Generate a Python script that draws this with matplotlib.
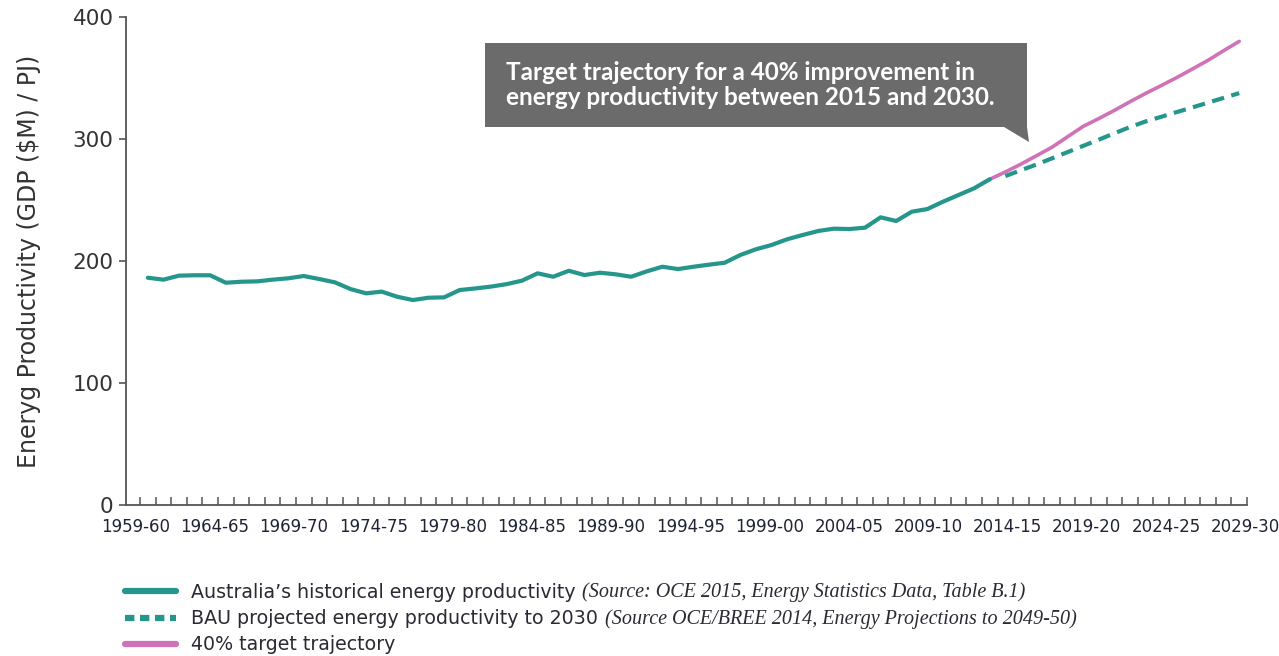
import numpy as np
import matplotlib
matplotlib.use("Agg")
import matplotlib.pyplot as plt
from matplotlib.patches import Polygon
from matplotlib.lines import Line2D

# ---------------- data ----------------
tick_labels = ["1959-60", "1964-65", "1969-70", "1974-75", "1979-80", "1984-85",
               "1989-90", "1994-95", "1999-00", "2004-05", "2009-10", "2014-15",
               "2019-20", "2024-25", "2029-30"]
n_years = 71  # 1959-60 .. 2029-30

# Australia's historical energy productivity, 1959-60 .. 2013-14
historical = [186.3, 184.7, 188.0, 188.3, 188.3, 182.2, 183.0, 183.3, 184.7, 185.8,
              187.7, 185.2, 182.5, 177.0, 173.5, 174.9, 170.7, 168.0, 169.9, 170.2,
              176.2, 177.5, 179.0, 181.0, 183.9, 189.9, 187.1, 192.0, 188.5, 190.4,
              189.1, 187.1, 191.5, 195.3, 193.4, 195.3, 197.0, 198.6, 204.9, 209.6,
              213.1, 217.8, 221.3, 224.6, 226.5, 226.2, 227.3, 235.8, 232.8, 240.4,
              242.6, 248.6, 254.1, 259.6, 267.0]
# BAU projection, 2014-15 .. 2029-30
bau = [269.6, 274.4, 279.1, 284.2, 289.3, 294.4, 299.5, 304.7, 309.8, 314.4,
       318.2, 322.1, 325.9, 329.8, 333.7, 337.6]
# 40% target trajectory, 2013-14 .. 2029-30
target = [267.0, 273.0, 279.4, 286.3, 293.3, 301.9, 310.4, 316.8, 323.5, 330.6,
          337.4, 343.8, 350.4, 357.4, 364.5, 372.4, 380.0]

ytick_vals = [0, 100, 200, 300, 400]

x_hist = np.arange(len(historical))
x_target = np.arange(len(historical) - 1, len(historical) - 1 + len(target))
x_bau = np.arange(len(historical), len(historical) + len(bau))

TEAL = "#25968b"
PINK = "#cf72b8"
TXT = "#2a2a35"

# ---------------- figure ----------------
W, H = 1279, 656
fig = plt.figure(figsize=(W / 100, H / 100), dpi=100)
ax = fig.add_axes([126 / W, 1 - 505 / H, (1247 - 126) / W, (505 - 17) / H])

ax.plot(x_target, target, color=PINK, lw=2.6, solid_capstyle="round", zorder=3)
ax.plot(x_bau, bau, color=TEAL, lw=3.0, dashes=(3.0, 1.8), zorder=3)
ax.plot(x_hist, historical, color=TEAL, lw=3.0, solid_joinstyle="round",
        solid_capstyle="round", zorder=4)

ax.set_xlim(-1.4, 70.5)
ax.set_ylim(0, 400)

for s in ["top", "right"]:
    ax.spines[s].set_visible(False)
for s in ["left", "bottom"]:
    ax.spines[s].set_color("#555555")
    ax.spines[s].set_linewidth(1.3)

ax.set_yticks(ytick_vals)
ax.set_yticklabels([str(v) for v in ytick_vals], fontsize=15.5, color="#333333")
ax.tick_params(axis="y", direction="out", length=5, width=1.2, color="#555555", pad=4)

ax.set_xticks(np.arange(-0.5, n_years, 1.0))
ax.set_xticklabels([])
ax.tick_params(axis="x", which="major", direction="in", length=6, width=1.1,
               color="#555555")
ax.set_xticks(np.linspace(-0.8, 70.4, len(tick_labels)), minor=True)
ax.set_xticklabels(tick_labels, minor=True, fontsize=12, color="#1f2335")
ax.tick_params(axis="x", which="minor", length=0, pad=9)

ax.set_ylabel("Eneryg Productivity (GDP ($M) / PJ)", fontsize=17, color="#333333")
ax.yaxis.set_label_coords(-0.076, 0.5)

# ---------------- callout box ----------------
def fxy(px, py):
    return (px / W, 1 - py / H)

box_pts = [fxy(485, 43), fxy(1027, 43), fxy(1027, 127), fxy(1029, 142),
           fxy(1004, 127), fxy(485, 127)]
fig.patches.append(Polygon(box_pts, closed=True, transform=fig.transFigure,
                           facecolor="#6b6b6b", edgecolor="none", zorder=5))
fig.text(506 / W, 1 - 85 / H,
         "Target trajectory for a 40% improvement in\nenergy productivity between 2015 and 2030.",
         family="Lato", fontweight="bold", fontsize=17.5, color="white",
         ha="left", va="center", linespacing=1.15, zorder=6)

# ---------------- legend ----------------
handles = [Line2D([], [], color=TEAL, lw=4.5, solid_capstyle="round"),
           Line2D([], [], color=TEAL, lw=4.5, dashes=(1.5, 0.9)),
           Line2D([], [], color=PINK, lw=4.5, solid_capstyle="round")]
labels = ["Australia\u2019s historical energy productivity",
          "BAU projected energy productivity to 2030",
          "40% target trajectory"]
sources = ["(Source: OCE 2015, Energy Statistics Data, Table B.1)",
           "(Source OCE/BREE 2014, Energy Projections to 2049-50)",
           None]
leg = fig.legend(handles, labels, loc="upper left", bbox_to_anchor=fxy(125, 583),
                 frameon=False, fontsize=13.7, handlelength=2.7, handletextpad=0.75,
                 labelspacing=0.38, borderpad=0, borderaxespad=0)
for t in leg.get_texts():
    t.set_color(TXT)

fig.canvas.draw()
renderer = fig.canvas.get_renderer()
for t, src in zip(leg.get_texts(), sources):
    if src is None:
        continue
    bb = t.get_window_extent(renderer)
    fig.text((bb.x1 + 7) / W, (bb.y0 + bb.y1) / 2 / H, src, family="Liberation Serif",
             style="italic", fontsize=14.5, color=TXT, ha="left", va="center")

fig.savefig("out.png", dpi=100)
